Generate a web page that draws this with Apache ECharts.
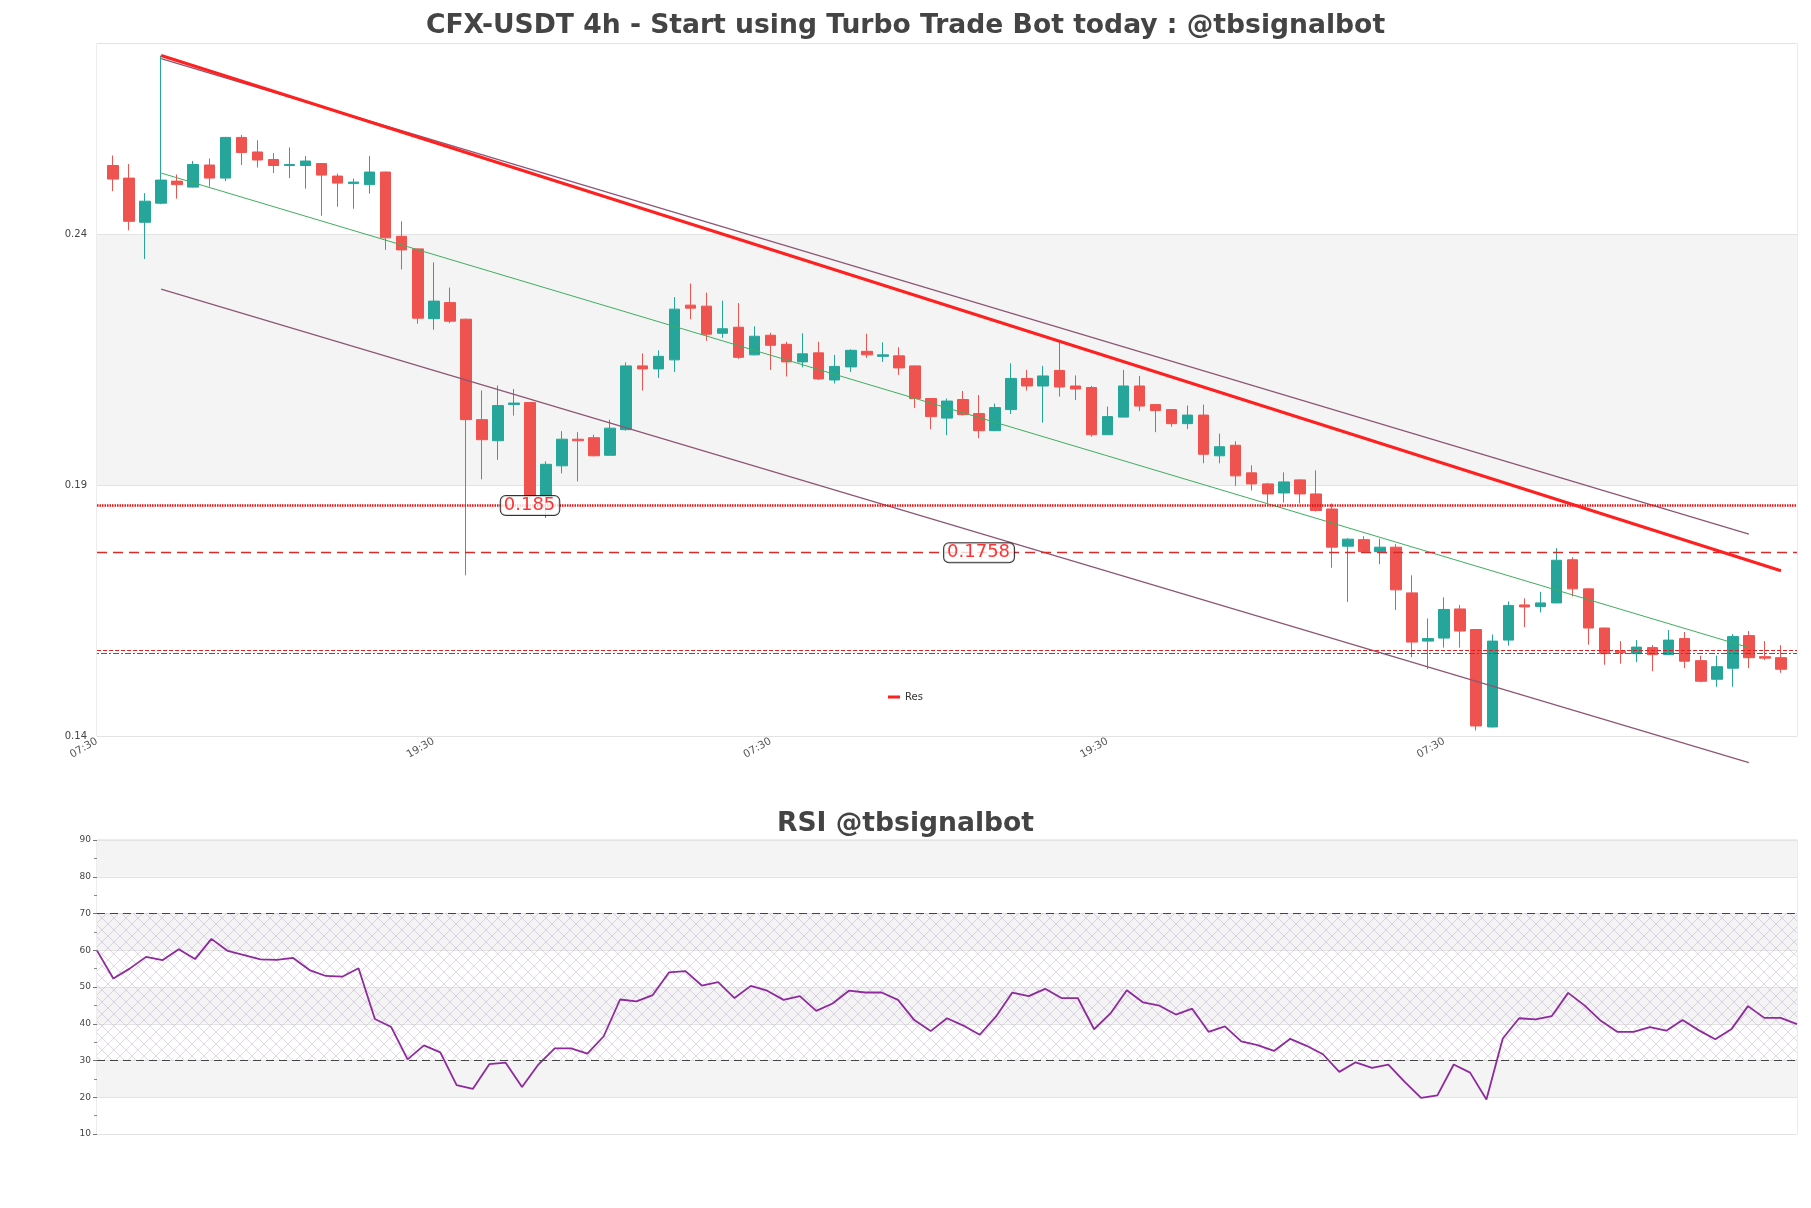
<!DOCTYPE html>
<html><head><meta charset="utf-8">
<script src="https://cdn.jsdelivr.net/npm/echarts@6/dist/echarts.min.js"></script>
<style>html,body{margin:0;padding:0;background:#fff}#c{width:1811px;height:1208px}</style>
</head><body><div id="c"></div>
<script>
// ---------------- DATA ----------------
const mainTitle = 'CFX-USDT 4h - Start using Turbo Trade Bot today : @tbsignalbot';
const rsiTitle = 'RSI @tbsignalbot';
const xTickLabels = ['07:30', '19:30', '07:30', '19:30', '07:30'];
const yTickMain = [0.14, 0.19, 0.24];

const opens = [0.2537,0.2512,0.2424,0.2462,0.2506,0.2494,0.2538,0.2512,0.2593,0.2564,
0.2549,0.2537,0.2537,0.2541,0.2516,0.2501,0.2499,0.2524,0.2396,0.2371,
0.2232,0.2264,0.2231,0.2031,0.1989,0.2061,0.2065,0.1878,0.1939,0.1992,
0.1995,0.1960,0.2011,0.2138,0.2132,0.2150,0.2259,0.2257,0.2203,0.2215,
0.2160,0.2199,0.2181,0.2146,0.2164,0.2110,0.2136,0.2167,0.2157,0.2158,
0.2138,0.2073,0.2034,0.2071,0.2043,0.2009,0.2051,0.2113,0.2098,0.2129,
0.2098,0.2095,0.2001,0.2036,0.2098,0.2061,0.2051,0.2023,0.2040,0.1959,
0.1980,0.1925,0.1903,0.1885,0.1911,0.1883,0.1853,0.1779,0.1792,0.1768,
0.1777,0.1686,0.1590,0.1596,0.1654,0.1613,0.1419,0.1592,0.1662,0.1659,
0.1666,0.1752,0.1694,0.1616,0.1570,0.1565,0.1577,0.1563,0.1595,0.1551,
0.1514,0.1536,0.1601,0.1559,0.1557];
const closes = [0.2510,0.2426,0.2466,0.2508,0.2499,0.2539,0.2512,0.2593,0.2563,0.2548,
0.2537,0.2539,0.2546,0.2518,0.2502,0.2504,0.2524,0.2393,0.2369,0.2233,
0.2267,0.2227,0.2031,0.1991,0.2059,0.2064,0.1880,0.1942,0.1992,0.1989,
0.1959,0.2014,0.2138,0.2132,0.2157,0.2251,0.2253,0.2201,0.2212,0.2155,
0.2197,0.2179,0.2146,0.2162,0.2112,0.2137,0.2169,0.2160,0.2160,0.2134,
0.2073,0.2037,0.2068,0.2041,0.2009,0.2055,0.2113,0.2098,0.2118,0.2096,
0.2092,0.2001,0.2037,0.2098,0.2058,0.2049,0.2023,0.2040,0.1962,0.1977,
0.1919,0.1903,0.1883,0.1907,0.1883,0.1850,0.1777,0.1793,0.1768,0.1777,
0.1692,0.1588,0.1595,0.1653,0.1610,0.1421,0.1590,0.1661,0.1658,0.1666,
0.1751,0.1694,0.1616,0.1565,0.1567,0.1578,0.1563,0.1592,0.1550,0.1510,
0.1539,0.1599,0.1557,0.1556,0.1534];
const lows = [0.2486,0.2408,0.2351,0.2460,0.2471,0.2493,0.2495,0.2506,0.2538,0.2533,
0.2522,0.2512,0.2491,0.2437,0.2455,0.2451,0.2481,0.2369,0.2330,0.2222,
0.2210,0.2223,0.1721,0.1912,0.1951,0.2039,0.1874,0.1835,0.1924,0.1908,
0.1958,0.1960,0.2009,0.2089,0.2114,0.2126,0.2231,0.2188,0.2194,0.2152,
0.2159,0.2130,0.2117,0.2135,0.2110,0.2103,0.2126,0.2154,0.2146,0.2120,
0.2054,0.2012,0.2000,0.2039,0.1994,0.2008,0.2042,0.2089,0.2025,0.2077,
0.2070,0.1997,0.2001,0.2036,0.2048,0.2006,0.2017,0.2012,0.1944,0.1944,
0.1899,0.1890,0.1864,0.1866,0.1864,0.1848,0.1736,0.1668,0.1766,0.1743,
0.1652,0.1558,0.1534,0.1577,0.1577,0.1412,0.1418,0.1581,0.1618,0.1647,
0.1665,0.1679,0.1583,0.1543,0.1545,0.1548,0.1530,0.1563,0.1536,0.1508,
0.1499,0.1499,0.1536,0.1552,0.1527];
const highs = [0.2557,0.2540,0.2482,0.2756,0.2519,0.2546,0.2551,0.2594,0.2598,0.2587,
0.2562,0.2573,0.2556,0.2542,0.2521,0.2511,0.2556,0.2525,0.2426,0.2372,
0.2344,0.2294,0.2232,0.2089,0.2099,0.2092,0.2066,0.1948,0.2008,0.2006,
0.2001,0.2031,0.2145,0.2163,0.2169,0.2275,0.2302,0.2284,0.2268,0.2263,
0.2217,0.2204,0.2186,0.2203,0.2186,0.2160,0.2171,0.2202,0.2185,0.2175,
0.2139,0.2074,0.2073,0.2088,0.2080,0.2063,0.2143,0.2130,0.2138,0.2186,
0.2119,0.2098,0.2057,0.2130,0.2118,0.2062,0.2052,0.2059,0.2061,0.2003,
0.1988,0.1940,0.1905,0.1926,0.1912,0.1930,0.1864,0.1795,0.1799,0.1794,
0.1783,0.1721,0.1635,0.1677,0.1662,0.1613,0.1603,0.1669,0.1675,0.1688,
0.1775,0.1757,0.1695,0.1617,0.1590,0.1592,0.1582,0.1612,0.1608,0.1561,
0.1561,0.1604,0.1610,0.1590,0.1582];

const rsi = [59.9,52.3,55.0,58.2,57.3,60.3,57.6,63.1,59.8,58.7,
57.5,57.4,57.9,54.6,53.0,52.8,55.1,41.3,39.1,30.3,
34.1,32.2,23.3,22.3,29.0,29.4,22.8,28.9,33.3,33.3,
31.9,36.6,46.6,46.1,47.8,54.0,54.3,50.4,51.3,47.0,
50.3,49.0,46.5,47.5,43.5,45.5,49.0,48.5,48.5,46.5,
41.0,38.0,41.5,39.5,37.0,42.0,48.5,47.5,49.5,47.0,
47.0,38.5,42.8,49.1,45.8,44.9,42.5,44.1,37.8,39.3,
35.2,34.2,32.6,35.9,34.0,31.7,26.9,29.5,28.0,28.9,
24.2,19.8,20.5,28.9,26.7,19.4,36.0,41.5,41.2,42.1,
48.4,45.0,40.8,37.8,37.8,39.1,38.1,41.0,38.2,35.8,
38.6,44.8,41.6,41.6,39.9];

// trend lines: [candle number (1-based), price]
const resLine = [[4, 0.2756], [105, 0.1730]];
const upperChannel = [[4, 0.2750], [103, 0.1803]];
const midChannel = [[4, 0.2522], [103, 0.1577]];
const lowerChannel = [[4, 0.2291], [103, 0.1348]];

// horizontal levels
const levelValues = [0.186, 0.1766];
const levelLabels = ['0.185', '0.1758'];
const levelLabelAt = [27, 55];
const supportLevels = [0.1571, 0.1566];
const rsiBands = [30, 70];

// ---------------- BUILD ----------------
const N = opens.length;
const xCats = [];
for (let k = 0; k < N + 2; k++) {
  xCats.push(k % 21 === 0 && (k / 21) < xTickLabels.length ? xTickLabels[k / 21] : '');
}
const candleData = ['-'];
for (let i = 0; i < N; i++) candleData.push([opens[i], closes[i], lows[i], highs[i]]);
candleData.push('-');
const rsiCats = rsi.map((_, i) => String(i));

function makeHatch() {
  const s = 12;
  const c = document.createElement('canvas');
  c.width = s; c.height = s;
  const g = c.getContext('2d');
  g.strokeStyle = 'rgba(150,115,175,0.40)';
  g.lineWidth = 0.7;
  g.beginPath();
  g.moveTo(0, 0); g.lineTo(s, s);
  g.moveTo(s, 0); g.lineTo(0, s);
  g.stroke();
  return c;
}

const UP = '#26a69a', DOWN = '#ef5350';
const font = 'DejaVu Sans';

const chart = echarts.init(document.getElementById('c'));
const option = {
  animation: false,
  backgroundColor: '#ffffff',
  textStyle: { fontFamily: font },
  title: [
    { text: mainTitle, left: 'center', top: 8, textStyle: { fontSize: 26.6, fontWeight: 'bold', color: '#444', fontFamily: font } },
    { text: rsiTitle, left: 'center', top: 806, textStyle: { fontSize: 26.6, fontWeight: 'bold', color: '#444', fontFamily: font } }
  ],
  legend: {
    data: ['Res'], left: 883, top: 687, icon: 'rect', itemWidth: 12, itemHeight: 3, itemGap: 6,
    textStyle: { fontSize: 10, color: '#333', fontFamily: font }
  },
  grid: [
    { left: 97, right: 14, top: 43.5, height: 693, show: true, borderColor: '#d9d9d9', borderWidth: 1 },
    { left: 97, right: 14, top: 840, height: 294, show: true, borderColor: '#d9d9d9', borderWidth: 1 }
  ],
  xAxis: [
    { type: 'category', gridIndex: 0, data: xCats, boundaryGap: false,
      axisLine: { show: false }, axisTick: { show: false }, splitLine: { show: false },
      axisLabel: { interval: 0, rotate: 30, fontSize: 10.5, color: '#555', margin: 4 } },
    { type: 'category', gridIndex: 1, data: rsiCats, boundaryGap: false,
      axisLine: { show: false }, axisTick: { show: false }, axisLabel: { show: false }, splitLine: { show: false } }
  ],
  yAxis: [
    { type: 'value', gridIndex: 0, min: yTickMain[0], max: 0.278, interval: 0.05,
      axisLine: { show: false }, axisTick: { show: false },
      axisLabel: { fontSize: 10, color: '#444', showMaxLabel: false, margin: 10 },
      splitLine: { show: true, lineStyle: { color: '#e3e3e3' } },
      splitArea: { show: true, areaStyle: { color: ['#ffffff', '#f4f4f4'] } } },
    { type: 'value', gridIndex: 1, min: 10, max: 90, interval: 10,
      axisLine: { show: false },
      axisTick: { show: true, length: 4, lineStyle: { color: '#777' } },
      minorTick: { show: true, splitNumber: 2, length: 3, lineStyle: { color: '#888' } },
      axisLabel: { fontSize: 9, color: '#444', margin: 6 },
      splitLine: { show: true, lineStyle: { color: '#e3e3e3' } },
      splitArea: { show: true, areaStyle: { color: ['#ffffff', '#f4f4f4'] } } }
  ],
  series: [
    { type: 'candlestick', name: 'Price', xAxisIndex: 0, yAxisIndex: 0, data: candleData, barWidth: 11,
      itemStyle: { color: UP, color0: DOWN, borderColor: UP, borderColor0: DOWN, borderWidth: 1 },
      markLine: {
        silent: true, symbol: ['none', 'none'], label: { show: false }, precision: 6,
        data: [
          { yAxis: levelValues[0], lineStyle: { type: [1.5, 1], width: 2.5, color: '#e01515' } },
          { yAxis: levelValues[1], lineStyle: { type: [10, 6], width: 1.3, color: '#d82a2a' } },
          { yAxis: supportLevels[0], lineStyle: { type: [4, 2], width: 1, color: '#e02020' } },
          { yAxis: supportLevels[1], lineStyle: { type: [2, 2, 6, 2], width: 1, color: '#e02020' } }
        ]
      } },
    { type: 'line', name: 'Res', xAxisIndex: 0, yAxisIndex: 0, data: resLine, symbol: 'none', z: 5,
      lineStyle: { color: '#ff2020', width: 3 }, itemStyle: { color: '#ff2020' } },
    { type: 'line', name: 'upper', xAxisIndex: 0, yAxisIndex: 0, data: upperChannel, symbol: 'none', z: 4,
      lineStyle: { color: '#8d5573', width: 1.2 } },
    { type: 'line', name: 'mid', xAxisIndex: 0, yAxisIndex: 0, data: midChannel, symbol: 'none', z: 4,
      lineStyle: { color: '#3fae5f', width: 1 } },
    { type: 'line', name: 'lower', xAxisIndex: 0, yAxisIndex: 0, data: lowerChannel, symbol: 'none', z: 4, clip: false,
      lineStyle: { color: '#8d5573', width: 1.2 } },
    { type: 'scatter', name: 'levels', xAxisIndex: 0, yAxisIndex: 0, z: 10, symbolSize: 1,
      itemStyle: { color: 'rgba(0,0,0,0)' },
      data: levelValues.map((v, i) => [levelLabelAt[i], v]),
      label: { show: true, position: 'inside', formatter: p => levelLabels[p.dataIndex],
        color: '#ff0000', fontSize: 18, fontFamily: font, backgroundColor: '#ffffff',
        borderColor: '#000', borderWidth: 1, borderRadius: 5, padding: [1, 4, 0, 3] } },
    { type: 'line', name: 'RSI', xAxisIndex: 1, yAxisIndex: 1, data: rsi, symbol: 'none',
      lineStyle: { color: '#8e2a9c', width: 1.8 }, itemStyle: { color: '#8e2a9c' },
      markLine: { silent: true, symbol: ['none', 'none'], label: { show: false },
        lineStyle: { type: [8, 5], color: '#444', width: 1.2 },
        data: rsiBands.map(v => ({ yAxis: v })) },
      markArea: { silent: true, itemStyle: { color: { image: makeHatch(), repeat: 'repeat' } },
        data: [[{ yAxis: rsiBands[0] }, { yAxis: rsiBands[1] }]] } }
  ]
};
chart.setOption(option);
</script>
</body></html>
